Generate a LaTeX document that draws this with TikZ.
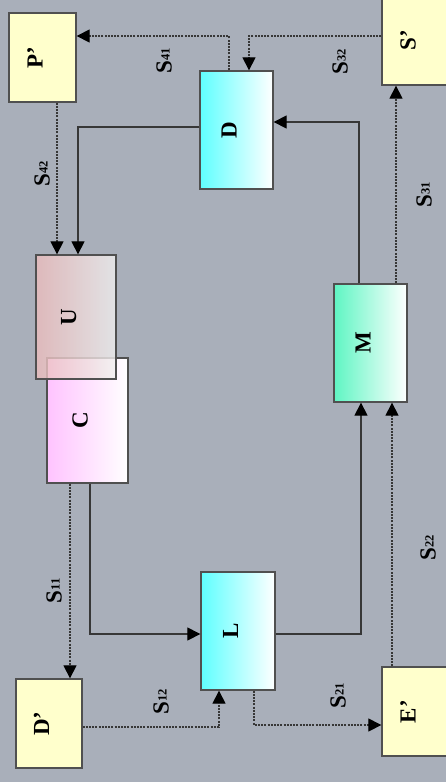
\documentclass[tikz,border=0pt]{standalone}
\usepackage{fontspec}
\setmainfont{Liberation Serif}
\usetikzlibrary{arrows.meta}
\definecolor{pBg}{RGB}{169,175,186}
\definecolor{pEdge}{RGB}{80,80,80}
\definecolor{pLine}{RGB}{55,55,55}
\definecolor{pYellow}{RGB}{255,255,204}
\definecolor{pCyan}{RGB}{95,255,255}
\definecolor{pMint}{RGB}{95,245,195}
\definecolor{pPink}{RGB}{255,195,255}
\definecolor{pRose}{RGB}{236,188,188}
\definecolor{pLight}{RGB}{240,240,240}
\newcommand{\btxt}[1]{\rotatebox{90}{\smash{\bfseries #1}}}
\newcommand{\slab}[1]{\rotatebox{90}{\bfseries S\raisebox{2pt}{\fontsize{12.5}{14}\selectfont #1}}}
\tikzset{
    blk/.style={rectangle, draw=pEdge, line width=1.3pt, minimum width=73pt, minimum height=118pt, inner sep=0pt, font=\fontsize{23}{27}\selectfont},
    ext/.style={blk, fill=pYellow, minimum width=67pt, minimum height=89pt},
    sline/.style={draw=pLine, line width=1.2pt, -{Triangle[length=13pt,width=13pt,fill=black,color=black]}},
    dline/.style={sline, dash pattern=on 2pt off 1.2pt},
    lab/.style={inner sep=0pt, font=\fontsize{23}{27}\selectfont}
}

\begin{document}
\begin{tikzpicture}[x=1pt,y=-1pt]
\useasboundingbox (0,0) rectangle (446,782);
\clip (0,0) rectangle (446,782);
\fill[pBg] (0,0) rectangle (446,782);
% blocks
\node[ext] (P) at (42.5,57.5) {\btxt{P’}};
\node[ext] (S) at (415.5,40.5) {\btxt{S’}};
\node[blk, left color=pCyan, right color=white] (D) at (236.5,130) {\btxt{D}};
\node[blk, minimum width=81pt, minimum height=125pt, left color=pPink, right color=white] (C) at (87.5,420.5) {\btxt{C}};
\node[blk, minimum width=80pt, minimum height=124pt, left color=pRose, right color=pLight, fill opacity=0.8, text opacity=1] (U) at (76,317) {\btxt{U}};
\node[blk, left color=pMint, right color=white] (M) at (370.5,343) {\btxt{M}};
\node[blk, minimum width=74pt, left color=pCyan, right color=white] (L) at (238,631) {\btxt{L}};
\node[ext, minimum width=66pt] (Dp) at (49,723.5) {\btxt{D’}};
\node[ext] (Ep) at (415.5,711.5) {\btxt{E’}};
% solid links
\draw[sline] ([yshift=3pt]D.west) -| ([xshift=2pt]U.north);
\draw[sline] ([xshift=-11.5pt]M.north) |- ([yshift=8pt]D.east);
\draw[sline] ([xshift=2.5pt]C.south) |- ([yshift=-3pt]L.west);
\draw[sline] ([yshift=-3pt]L.east) -| ([xshift=-9.5pt]M.south);
% dashed links
\draw[dline] ([xshift=14.5pt]P.south) -- ([xshift=14.5pt]P.south |- U.north);
\draw[dline] ([xshift=-7.5pt]D.north) |- ([yshift=21.5pt]P.east);
\draw[dline] ([yshift=4.5pt]S.west) -| ([xshift=12.5pt]D.north);
\draw[dline] ([xshift=25.5pt]M.north) -- ([xshift=25.5pt]M.north |- S.south);
\draw[dline] ([xshift=-17.5pt]C.south) -- ([xshift=-17.5pt]C.south |- Dp.north);
\draw[dline] ([yshift=-3.5pt]Dp.east) -| ([xshift=-19pt]L.south);
\draw[dline] ([xshift=16pt]L.south) |- ([yshift=-13.5pt]Ep.west);
\draw[dline] ([xshift=-23.5pt]Ep.north) -- ([xshift=-23.5pt]Ep.north |- M.south);
% labels
\node[lab] (s41) at (164,61) {\slab{41}};
\node[lab] (s32) at (340,62) {\slab{32}};
\node[lab] (s42) at (42,174) {\slab{42}};
\node[lab] (s31) at (424,195) {\slab{31}};
\node[lab] (s11) at (54,591) {\slab{11}};
\node[lab] (s12) at (161,702) {\slab{12}};
\node[lab] (s21) at (338,696) {\slab{21}};
\node[lab] (s22) at (428,548) {\slab{22}};
\end{tikzpicture}
\end{document}
